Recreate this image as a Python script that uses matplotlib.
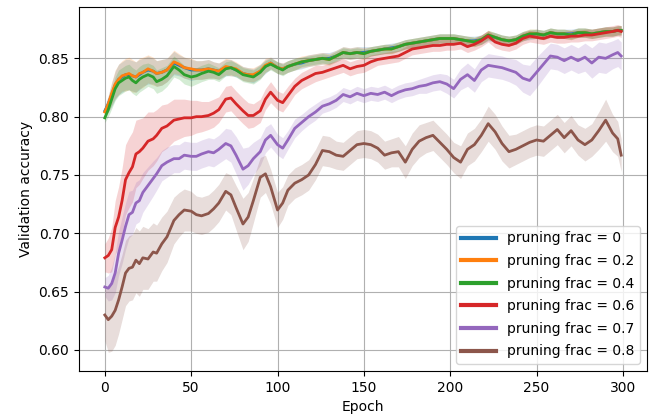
import numpy as np
import matplotlib
matplotlib.use("Agg")
import matplotlib.pyplot as plt

epochs = [0, 2, 4, 6, 8, 10, 12, 14, 16, 18,
          20, 22, 25, 28, 30, 33, 36, 40, 43, 46,
          50, 53, 56, 60, 63, 66, 70, 73, 76, 80,
          83, 86, 90, 93, 96, 100, 103, 106, 110, 114,
          118, 122, 126, 130, 134, 138, 142, 146, 150, 154,
          158, 162, 166, 170, 174, 178, 182, 186, 190, 194,
          198, 202, 206, 210, 214, 218, 222, 226, 230, 234,
          238, 242, 246, 250, 254, 258, 262, 266, 270, 274,
          278, 282, 286, 290, 294, 297, 299]

labels = ["pruning frac = 0", "pruning frac = 0.2", "pruning frac = 0.4",
          "pruning frac = 0.6", "pruning frac = 0.7", "pruning frac = 0.8"]

acc_0 = [0.805, 0.811, 0.819, 0.827, 0.832, 0.834, 0.836, 0.836, 0.835, 0.834,
         0.836, 0.838, 0.840, 0.839, 0.837, 0.838, 0.840, 0.846, 0.844, 0.842,
         0.840, 0.840, 0.840, 0.841, 0.840, 0.839, 0.842, 0.842, 0.840, 0.837,
         0.836, 0.835, 0.839, 0.843, 0.846, 0.842, 0.841, 0.843, 0.845, 0.846,
         0.848, 0.849, 0.850, 0.850, 0.852, 0.855, 0.854, 0.855, 0.855, 0.856,
         0.857, 0.858, 0.859, 0.860, 0.862, 0.863, 0.864, 0.865, 0.866, 0.867,
         0.867, 0.867, 0.866, 0.865, 0.865, 0.866, 0.869, 0.868, 0.866, 0.865,
         0.866, 0.869, 0.870, 0.871, 0.870, 0.872, 0.871, 0.871, 0.871, 0.872,
         0.872, 0.871, 0.872, 0.873, 0.873, 0.874, 0.874]
acc_02 = [0.804, 0.811, 0.820, 0.828, 0.832, 0.835, 0.836, 0.837, 0.835, 0.834,
          0.837, 0.838, 0.841, 0.839, 0.837, 0.838, 0.840, 0.847, 0.845, 0.842,
          0.841, 0.840, 0.840, 0.841, 0.840, 0.839, 0.843, 0.842, 0.841, 0.837,
          0.836, 0.836, 0.839, 0.844, 0.846, 0.842, 0.841, 0.843, 0.845, 0.847,
          0.848, 0.849, 0.850, 0.849, 0.852, 0.855, 0.854, 0.855, 0.854, 0.856,
          0.857, 0.858, 0.858, 0.860, 0.862, 0.863, 0.864, 0.865, 0.866, 0.867,
          0.867, 0.867, 0.866, 0.865, 0.864, 0.866, 0.870, 0.868, 0.866, 0.865,
          0.866, 0.869, 0.871, 0.871, 0.870, 0.872, 0.871, 0.871, 0.870, 0.872,
          0.872, 0.871, 0.872, 0.873, 0.873, 0.874, 0.874]
acc_04 = [0.799, 0.806, 0.815, 0.824, 0.829, 0.831, 0.833, 0.834, 0.831, 0.829,
          0.832, 0.834, 0.836, 0.834, 0.830, 0.832, 0.835, 0.843, 0.840, 0.836,
          0.834, 0.835, 0.837, 0.839, 0.838, 0.836, 0.841, 0.842, 0.840, 0.836,
          0.835, 0.834, 0.838, 0.843, 0.845, 0.842, 0.840, 0.843, 0.845, 0.847,
          0.848, 0.849, 0.850, 0.849, 0.852, 0.855, 0.854, 0.855, 0.854, 0.856,
          0.857, 0.858, 0.858, 0.860, 0.862, 0.863, 0.864, 0.865, 0.866, 0.867,
          0.867, 0.867, 0.866, 0.865, 0.864, 0.866, 0.870, 0.868, 0.866, 0.865,
          0.866, 0.869, 0.871, 0.871, 0.870, 0.872, 0.871, 0.871, 0.870, 0.872,
          0.872, 0.871, 0.872, 0.873, 0.873, 0.874, 0.874]
acc_06 = [0.679, 0.681, 0.686, 0.705, 0.714, 0.728, 0.746, 0.752, 0.757, 0.768,
          0.770, 0.773, 0.779, 0.781, 0.784, 0.790, 0.792, 0.797, 0.798, 0.799,
          0.799, 0.800, 0.800, 0.801, 0.803, 0.806, 0.815, 0.816, 0.811, 0.805,
          0.801, 0.801, 0.805, 0.815, 0.821, 0.814, 0.812, 0.818, 0.826, 0.831,
          0.834, 0.837, 0.838, 0.840, 0.842, 0.844, 0.841, 0.843, 0.844, 0.847,
          0.849, 0.850, 0.851, 0.852, 0.855, 0.858, 0.859, 0.860, 0.861, 0.861,
          0.862, 0.862, 0.863, 0.860, 0.862, 0.865, 0.869, 0.864, 0.862, 0.861,
          0.863, 0.867, 0.869, 0.868, 0.867, 0.869, 0.868, 0.868, 0.869, 0.869,
          0.870, 0.870, 0.871, 0.872, 0.873, 0.874, 0.873]
acc_07 = [0.654, 0.653, 0.657, 0.666, 0.683, 0.694, 0.706, 0.716, 0.718, 0.726,
          0.728, 0.735, 0.741, 0.747, 0.751, 0.758, 0.761, 0.764, 0.764, 0.767,
          0.766, 0.766, 0.768, 0.770, 0.769, 0.772, 0.777, 0.775, 0.767, 0.755,
          0.758, 0.764, 0.770, 0.780, 0.784, 0.776, 0.773, 0.780, 0.790, 0.795,
          0.800, 0.804, 0.809, 0.811, 0.814, 0.819, 0.817, 0.820, 0.818, 0.820,
          0.819, 0.821, 0.818, 0.821, 0.823, 0.824, 0.826, 0.827, 0.829, 0.830,
          0.828, 0.824, 0.832, 0.836, 0.831, 0.840, 0.844, 0.843, 0.842, 0.840,
          0.838, 0.833, 0.831, 0.838, 0.845, 0.852, 0.851, 0.848, 0.851, 0.848,
          0.851, 0.846, 0.851, 0.850, 0.853, 0.855, 0.852]
acc_08 = [0.630, 0.626, 0.629, 0.634, 0.643, 0.654, 0.666, 0.670, 0.671, 0.677,
          0.674, 0.679, 0.678, 0.684, 0.683, 0.691, 0.697, 0.711, 0.716, 0.720,
          0.719, 0.716, 0.715, 0.717, 0.721, 0.726, 0.736, 0.733, 0.722, 0.708,
          0.714, 0.728, 0.748, 0.751, 0.740, 0.720, 0.726, 0.737, 0.743, 0.746,
          0.750, 0.759, 0.771, 0.770, 0.767, 0.766, 0.771, 0.776, 0.777, 0.776,
          0.773, 0.767, 0.769, 0.770, 0.761, 0.772, 0.779, 0.782, 0.784, 0.778,
          0.772, 0.765, 0.761, 0.772, 0.776, 0.784, 0.794, 0.787, 0.777, 0.770,
          0.772, 0.775, 0.778, 0.780, 0.779, 0.784, 0.789, 0.782, 0.788, 0.780,
          0.776, 0.780, 0.788, 0.797, 0.786, 0.781, 0.767]

std_0 = [0.004, 0.007, 0.010, 0.012, 0.013, 0.013, 0.013, 0.013, 0.013, 0.013,
         0.013, 0.012, 0.012, 0.011, 0.011, 0.011, 0.010, 0.010, 0.009, 0.009,
         0.009, 0.008, 0.008, 0.008, 0.007, 0.007, 0.007, 0.007, 0.006, 0.006,
         0.006, 0.006, 0.006, 0.006, 0.005, 0.005, 0.005, 0.005, 0.005, 0.005,
         0.005, 0.005, 0.005, 0.005, 0.005, 0.005, 0.005, 0.005, 0.005, 0.004,
         0.004, 0.004, 0.004, 0.004, 0.004, 0.004, 0.004, 0.004, 0.004, 0.004,
         0.004, 0.004, 0.004, 0.004, 0.004, 0.004, 0.004, 0.004, 0.004, 0.004,
         0.004, 0.004, 0.004, 0.004, 0.004, 0.004, 0.004, 0.004, 0.004, 0.004,
         0.004, 0.004, 0.004, 0.004, 0.004, 0.004, 0.004]
std_02 = [0.004, 0.007, 0.010, 0.012, 0.013, 0.013, 0.014, 0.014, 0.014, 0.013,
          0.013, 0.013, 0.012, 0.012, 0.011, 0.011, 0.010, 0.010, 0.009, 0.009,
          0.009, 0.008, 0.008, 0.008, 0.007, 0.007, 0.007, 0.007, 0.006, 0.006,
          0.006, 0.006, 0.006, 0.006, 0.005, 0.005, 0.005, 0.005, 0.005, 0.005,
          0.005, 0.005, 0.005, 0.005, 0.005, 0.005, 0.005, 0.005, 0.005, 0.004,
          0.004, 0.004, 0.004, 0.004, 0.004, 0.004, 0.004, 0.004, 0.004, 0.004,
          0.004, 0.004, 0.004, 0.004, 0.004, 0.004, 0.004, 0.004, 0.004, 0.004,
          0.004, 0.004, 0.004, 0.004, 0.004, 0.004, 0.004, 0.004, 0.004, 0.004,
          0.004, 0.004, 0.004, 0.004, 0.004, 0.004, 0.004]
std_04 = [0.004, 0.006, 0.008, 0.010, 0.011, 0.011, 0.011, 0.011, 0.011, 0.011,
          0.011, 0.011, 0.010, 0.010, 0.010, 0.010, 0.009, 0.009, 0.008, 0.008,
          0.008, 0.007, 0.007, 0.007, 0.006, 0.006, 0.006, 0.006, 0.006, 0.006,
          0.006, 0.006, 0.006, 0.005, 0.005, 0.005, 0.005, 0.005, 0.005, 0.004,
          0.004, 0.004, 0.004, 0.004, 0.004, 0.004, 0.004, 0.004, 0.004, 0.004,
          0.004, 0.004, 0.004, 0.004, 0.004, 0.004, 0.004, 0.004, 0.004, 0.004,
          0.004, 0.004, 0.004, 0.004, 0.004, 0.004, 0.004, 0.004, 0.004, 0.004,
          0.004, 0.004, 0.004, 0.004, 0.004, 0.004, 0.004, 0.004, 0.004, 0.004,
          0.004, 0.004, 0.004, 0.004, 0.004, 0.004, 0.004]
std_06 = [0.012, 0.015, 0.019, 0.023, 0.026, 0.028, 0.030, 0.030, 0.030, 0.029,
          0.028, 0.026, 0.025, 0.023, 0.022, 0.020, 0.019, 0.018, 0.017, 0.016,
          0.015, 0.014, 0.013, 0.012, 0.012, 0.011, 0.011, 0.011, 0.011, 0.011,
          0.011, 0.010, 0.010, 0.009, 0.009, 0.008, 0.008, 0.008, 0.007, 0.007,
          0.007, 0.007, 0.006, 0.006, 0.006, 0.006, 0.006, 0.006, 0.006, 0.006,
          0.005, 0.005, 0.005, 0.005, 0.005, 0.005, 0.005, 0.005, 0.005, 0.005,
          0.005, 0.005, 0.005, 0.005, 0.005, 0.005, 0.005, 0.005, 0.005, 0.005,
          0.005, 0.005, 0.005, 0.005, 0.005, 0.005, 0.005, 0.005, 0.005, 0.005,
          0.005, 0.005, 0.005, 0.005, 0.005, 0.005, 0.005]
std_07 = [0.008, 0.011, 0.014, 0.017, 0.019, 0.020, 0.020, 0.020, 0.019, 0.018,
          0.018, 0.017, 0.016, 0.015, 0.014, 0.013, 0.013, 0.012, 0.012, 0.012,
          0.012, 0.012, 0.012, 0.012, 0.012, 0.012, 0.013, 0.014, 0.016, 0.018,
          0.016, 0.014, 0.012, 0.011, 0.010, 0.009, 0.009, 0.008, 0.008, 0.007,
          0.007, 0.007, 0.006, 0.006, 0.006, 0.006, 0.006, 0.006, 0.006, 0.006,
          0.006, 0.006, 0.006, 0.006, 0.006, 0.006, 0.006, 0.007, 0.007, 0.007,
          0.008, 0.008, 0.009, 0.010, 0.010, 0.010, 0.010, 0.010, 0.010, 0.010,
          0.011, 0.012, 0.013, 0.013, 0.012, 0.011, 0.011, 0.011, 0.011, 0.011,
          0.012, 0.013, 0.013, 0.013, 0.012, 0.012, 0.012]
std_08 = [0.022, 0.028, 0.030, 0.030, 0.029, 0.028, 0.028, 0.028, 0.028, 0.028,
          0.028, 0.027, 0.026, 0.025, 0.024, 0.023, 0.022, 0.020, 0.019, 0.018,
          0.017, 0.016, 0.016, 0.016, 0.016, 0.016, 0.016, 0.017, 0.019, 0.022,
          0.021, 0.019, 0.017, 0.016, 0.015, 0.015, 0.014, 0.013, 0.013, 0.013,
          0.013, 0.013, 0.013, 0.013, 0.012, 0.012, 0.012, 0.012, 0.012, 0.012,
          0.012, 0.012, 0.012, 0.013, 0.014, 0.014, 0.014, 0.013, 0.013, 0.013,
          0.013, 0.013, 0.014, 0.014, 0.014, 0.014, 0.015, 0.015, 0.015, 0.014,
          0.013, 0.013, 0.013, 0.013, 0.013, 0.013, 0.013, 0.013, 0.013, 0.013,
          0.014, 0.014, 0.016, 0.018, 0.016, 0.015, 0.014]

means = [acc_0, acc_02, acc_04, acc_06, acc_07, acc_08]
stds = [std_0, std_02, std_04, std_06, std_07, std_08]
colors = ["C0", "C1", "C2", "C3", "C4", "C5"]

fig = plt.figure(figsize=(6.58, 4.18), dpi=100)
ax = fig.add_axes([79 / 658, 1 - 371 / 418, (647 - 79) / 658, (371 - 7) / 418])

x = np.array(epochs)
for m, s, c, lab in zip(means, stds, colors, labels):
    m = np.array(m)
    s = np.array(s)
    ax.fill_between(x, m - s, m + s, color=c, alpha=0.2, linewidth=0)
    ax.plot(x, m, color=c, linewidth=2, label=lab)

ax.set_xlim(-14.95, 313.95)
ax.set_ylim(0.582, 0.894)
ax.set_xticks([0, 50, 100, 150, 200, 250, 300])
ax.set_yticks([0.60, 0.65, 0.70, 0.75, 0.80, 0.85])
ax.grid(True)
ax.set_axisbelow(True)
ax.set_xlabel("Epoch")
ax.set_ylabel("Validation accuracy")
leg = ax.legend(loc="lower right", handlelength=2.5, labelspacing=0.62)
for ln in leg.get_lines():
    ln.set_linewidth(3)

fig.savefig("out.png", dpi=100)
